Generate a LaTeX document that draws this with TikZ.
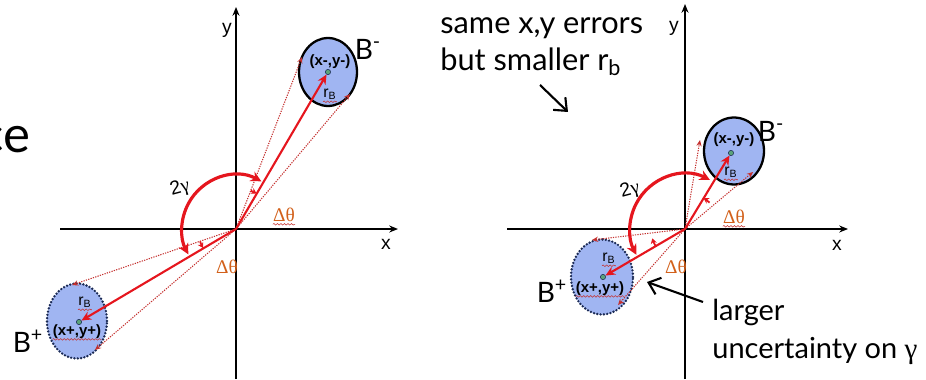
\documentclass[tikz,border=0pt]{standalone}
\usepackage{fontspec}
\setmainfont{Lato}
\newfontfamily\arialfont{Liberation Sans}
\newfontfamily\timesfont{Liberation Serif}
\usetikzlibrary{arrows.meta,calc,shapes.geometric,decorations.pathmorphing}
\definecolor{Fill}{HTML}{A0B5F2}
\definecolor{Rim}{HTML}{1B2A55}
\definecolor{Red}{HTML}{E5161E}
\definecolor{DotRed}{HTML}{C4302E}
\definecolor{Brown}{HTML}{D2601A}
\definecolor{Seed}{HTML}{5BA37A}
\tikzset{bsolid/.style={ellipse,draw=black,line width=1.3pt,fill=Fill,inner sep=0pt},bdotted/.style={ellipse,draw=Rim,line width=1.5pt,dash pattern=on 0pt off 1.9pt,line cap=round,fill=Fill,inner sep=0pt},axis/.style={-{Stealth[length=5pt,width=4pt]},line width=0.8pt},vec/.style={-{Stealth[length=5.5pt,width=5pt]},draw=Red,line width=1.2pt},tang/.style={-{Stealth[length=3.5pt,width=3pt]},draw=DotRed,line width=0.6pt,dash pattern=on 0.7pt off 0.7pt},turn/.style={{Stealth[length=6pt,width=6pt]}-{Stealth[length=6pt,width=6pt]},draw=Red,line width=1.8pt},dtick/.style={-{Stealth[length=3pt,width=3.5pt]},draw=Red,line width=1pt},pointer/.style={-{Straight Barb[length=6pt,width=10pt]},line width=1.2pt},seed/.style={circle,fill=Seed,draw=Rim,line width=0.3pt,minimum size=3pt,inner sep=0pt},big/.style={font=\fontsize{16}{21}\selectfont,inner sep=0pt},xylabel/.style={font=\arialfont\bfseries\fontsize{8.5}{10}\selectfont,inner sep=0pt},rb/.style={font=\arialfont\fontsize{9}{10}\selectfont,inner sep=0pt},dth/.style={font=\timesfont\fontsize{11}{12}\selectfont,text=Brown,inner sep=0pt},ax/.style={font=\arialfont\fontsize{11}{12}\selectfont,inner sep=0pt},squig/.style={draw=DotRed,line width=0.3pt,decorate,decoration={snake,amplitude=0.45pt,segment length=2pt}}}
\begin{document}
\begin{tikzpicture}[x=0.02cm,y=0.02cm]
  \useasboundingbox (0,0) rectangle (926,379);
  \node[font=\fontsize{29}{32}\selectfont,inner sep=0pt,anchor=base east] (ce) at (31,226) {ce};
  % left panel
  \coordinate (oL) at (236,150);
  \coordinate (xL0) at (60,150);\coordinate (xL1) at (398,150);
  \coordinate (yL0) at (236,0);\coordinate (yL1) at (236,372);
  \draw[axis](xL0)--(xL1);\draw[axis](yL0)--(yL1);
  \node[ax] (xlL) at (386,135) {x};
  \node[ax] (ylL) at (227,349) {y};
  \node[bsolid,minimum width=1.16cm,minimum height=1.36cm] (bmL) at (328,307) {};
  \node[bdotted,minimum width=1.2cm,minimum height=1.5cm] (bpL) at (77,58) {};
  \node[xylabel] (tmL) at (330,317) {(x-,y-)};
  \node[xylabel] (tpL) at (77,47) {(x+,y+)};
  \node[rb] (rmL) at (330,285) {r\textsubscript{B}};
  \node[rb] (rpL) at (85,77) {r\textsubscript{B}};
  \node[big] (lmL) at (368,330) {B\textsuperscript{-}};
  \node[big] (lpL) at (28,38) {B\textsuperscript{+}};
  \coordinate (tL1) at (302,322);\coordinate (tL2) at (350,285);
  \coordinate (tL3) at (72,94);\coordinate (tL4) at (95,29);
  \draw[tang](oL)--(tL1);\draw[tang](oL)--(tL2);
  \draw[tang](oL)--(tL3);\draw[tang](oL)--(tL4);
  \node[seed] (cmL) at (328,307) {};
  \node[seed] (cpL) at (79,57) {};
  \draw[vec](oL)--(cmL);\draw[vec](oL)--(cpL);
  \draw[turn]($(oL)+(62:54)$) arc[start angle=62,end angle=208,radius=54];
  \draw[dtick]($(oL)+(69:41)$) arc[start angle=69,end angle=60,radius=41];
  \draw[dtick]($(oL)+(199:38)$) arc[start angle=199,end angle=210,radius=38];
  \node[ax,rotate=15] (gL) at (180,191) {2{\timesfont γ}};
  \node[dth] (dmL) at (284,164) {Δθ};
  \node[dth] (dpL) at (227,112) {Δθ};
  \draw[squig]([yshift=-1.5pt]dmL.base west)--([yshift=-1.5pt]dmL.base east);
  \draw[squig]([yshift=-2.5pt]rmL.base west)--([yshift=-2.5pt]rmL.base east);
  \draw[squig]([yshift=-2.5pt]rpL.base west)--([yshift=-2.5pt]rpL.base east);
  \draw[squig]([yshift=-2pt]tpL.base west)--([yshift=-2pt]tpL.base east);
  % right panel
  \coordinate (oR) at (685,150);
  \coordinate (xR0) at (507,150);\coordinate (xR1) at (848,150);
  \coordinate (yR0) at (685,0);\coordinate (yR1) at (685,375);
  \draw[axis](xR0)--(xR1);\draw[axis](yR0)--(yR1);
  \node[ax] (xlR) at (837,134) {x};
  \node[ax] (ylR) at (674,351) {y};
  \node[bsolid,minimum width=1.2cm,minimum height=1.34cm] (bmR) at (734,228) {};
  \node[bdotted,minimum width=1.24cm,minimum height=1.5cm] (bpR) at (602,102) {};
  \node[xylabel] (tmR) at (734,239) {(x-,y-)};
  \node[xylabel] (tpR) at (600,90) {(x+,y+)};
  \node[rb] (rmR) at (731,207) {r\textsubscript{B}};
  \node[rb] (rpR) at (609,121) {r\textsubscript{B}};
  \node[big] (lmR) at (771,248) {B\textsuperscript{-}};
  \node[big] (lpR) at (552,88) {B\textsuperscript{+}};
  \coordinate (tR1) at (700,239);\coordinate (tR2) at (753,207);
  \coordinate (tR3) at (592,139);\coordinate (tR4) at (618,74);
  \draw[tang](oR)--(tR1);\draw[tang](oR)--(tR2);
  \draw[tang](oR)--(tR3);\draw[tang](oR)--(tR4);
  \node[seed] (cmR) at (731,226) {};
  \node[seed] (cpR) at (603,102) {};
  \draw[vec](oR)--(cmR);\draw[vec](oR)--(cpR);
  \draw[turn]($(oR)+(63:55)$) arc[start angle=63,end angle=208,radius=55];
  \draw[dtick]($(oR)+(47:36)$) arc[start angle=47,end angle=59,radius=36];
  \draw[dtick]($(oR)+(210:34)$) arc[start angle=210,end angle=196,radius=34];
  \node[ax,rotate=15] (gR) at (630,189) {2{\timesfont γ}};
  \node[dth] (dmR) at (734,162) {Δθ};
  \node[dth] (dpR) at (676,112) {Δθ};
  \draw[squig]([yshift=-1.5pt]dmR.base west)--([yshift=-1.5pt]dmR.base east);
  \draw[squig]([yshift=-2.5pt]rmR.base west)--([yshift=-2.5pt]rmR.base east);
  \draw[squig]([yshift=-2.5pt]rpR.base west)--([yshift=-2.5pt]rpR.base east);
  \draw[squig]([yshift=-2pt]tpR.base west)--([yshift=-2pt]tpR.base east);
  % notes
  \node[big,font=\fontsize{17.5}{21}\selectfont,align=left,anchor=west] (same) at (440,332) {same x,y errors\\but smaller r\textsubscript{b}};
  \coordinate (sA) at (540,294);\coordinate (sB) at (568,267);
  \draw[pointer](sA)--(sB);
  \node[big,font=\fontsize{16.5}{21.5}\selectfont,align=left,anchor=west] (unc) at (712,47) {larger\\uncertainty on {\timesfont γ}};
  \coordinate (uA) at (703,77);\coordinate (uB) at (647,97);
  \draw[pointer](uA)--(uB);
\end{tikzpicture}
\end{document}
